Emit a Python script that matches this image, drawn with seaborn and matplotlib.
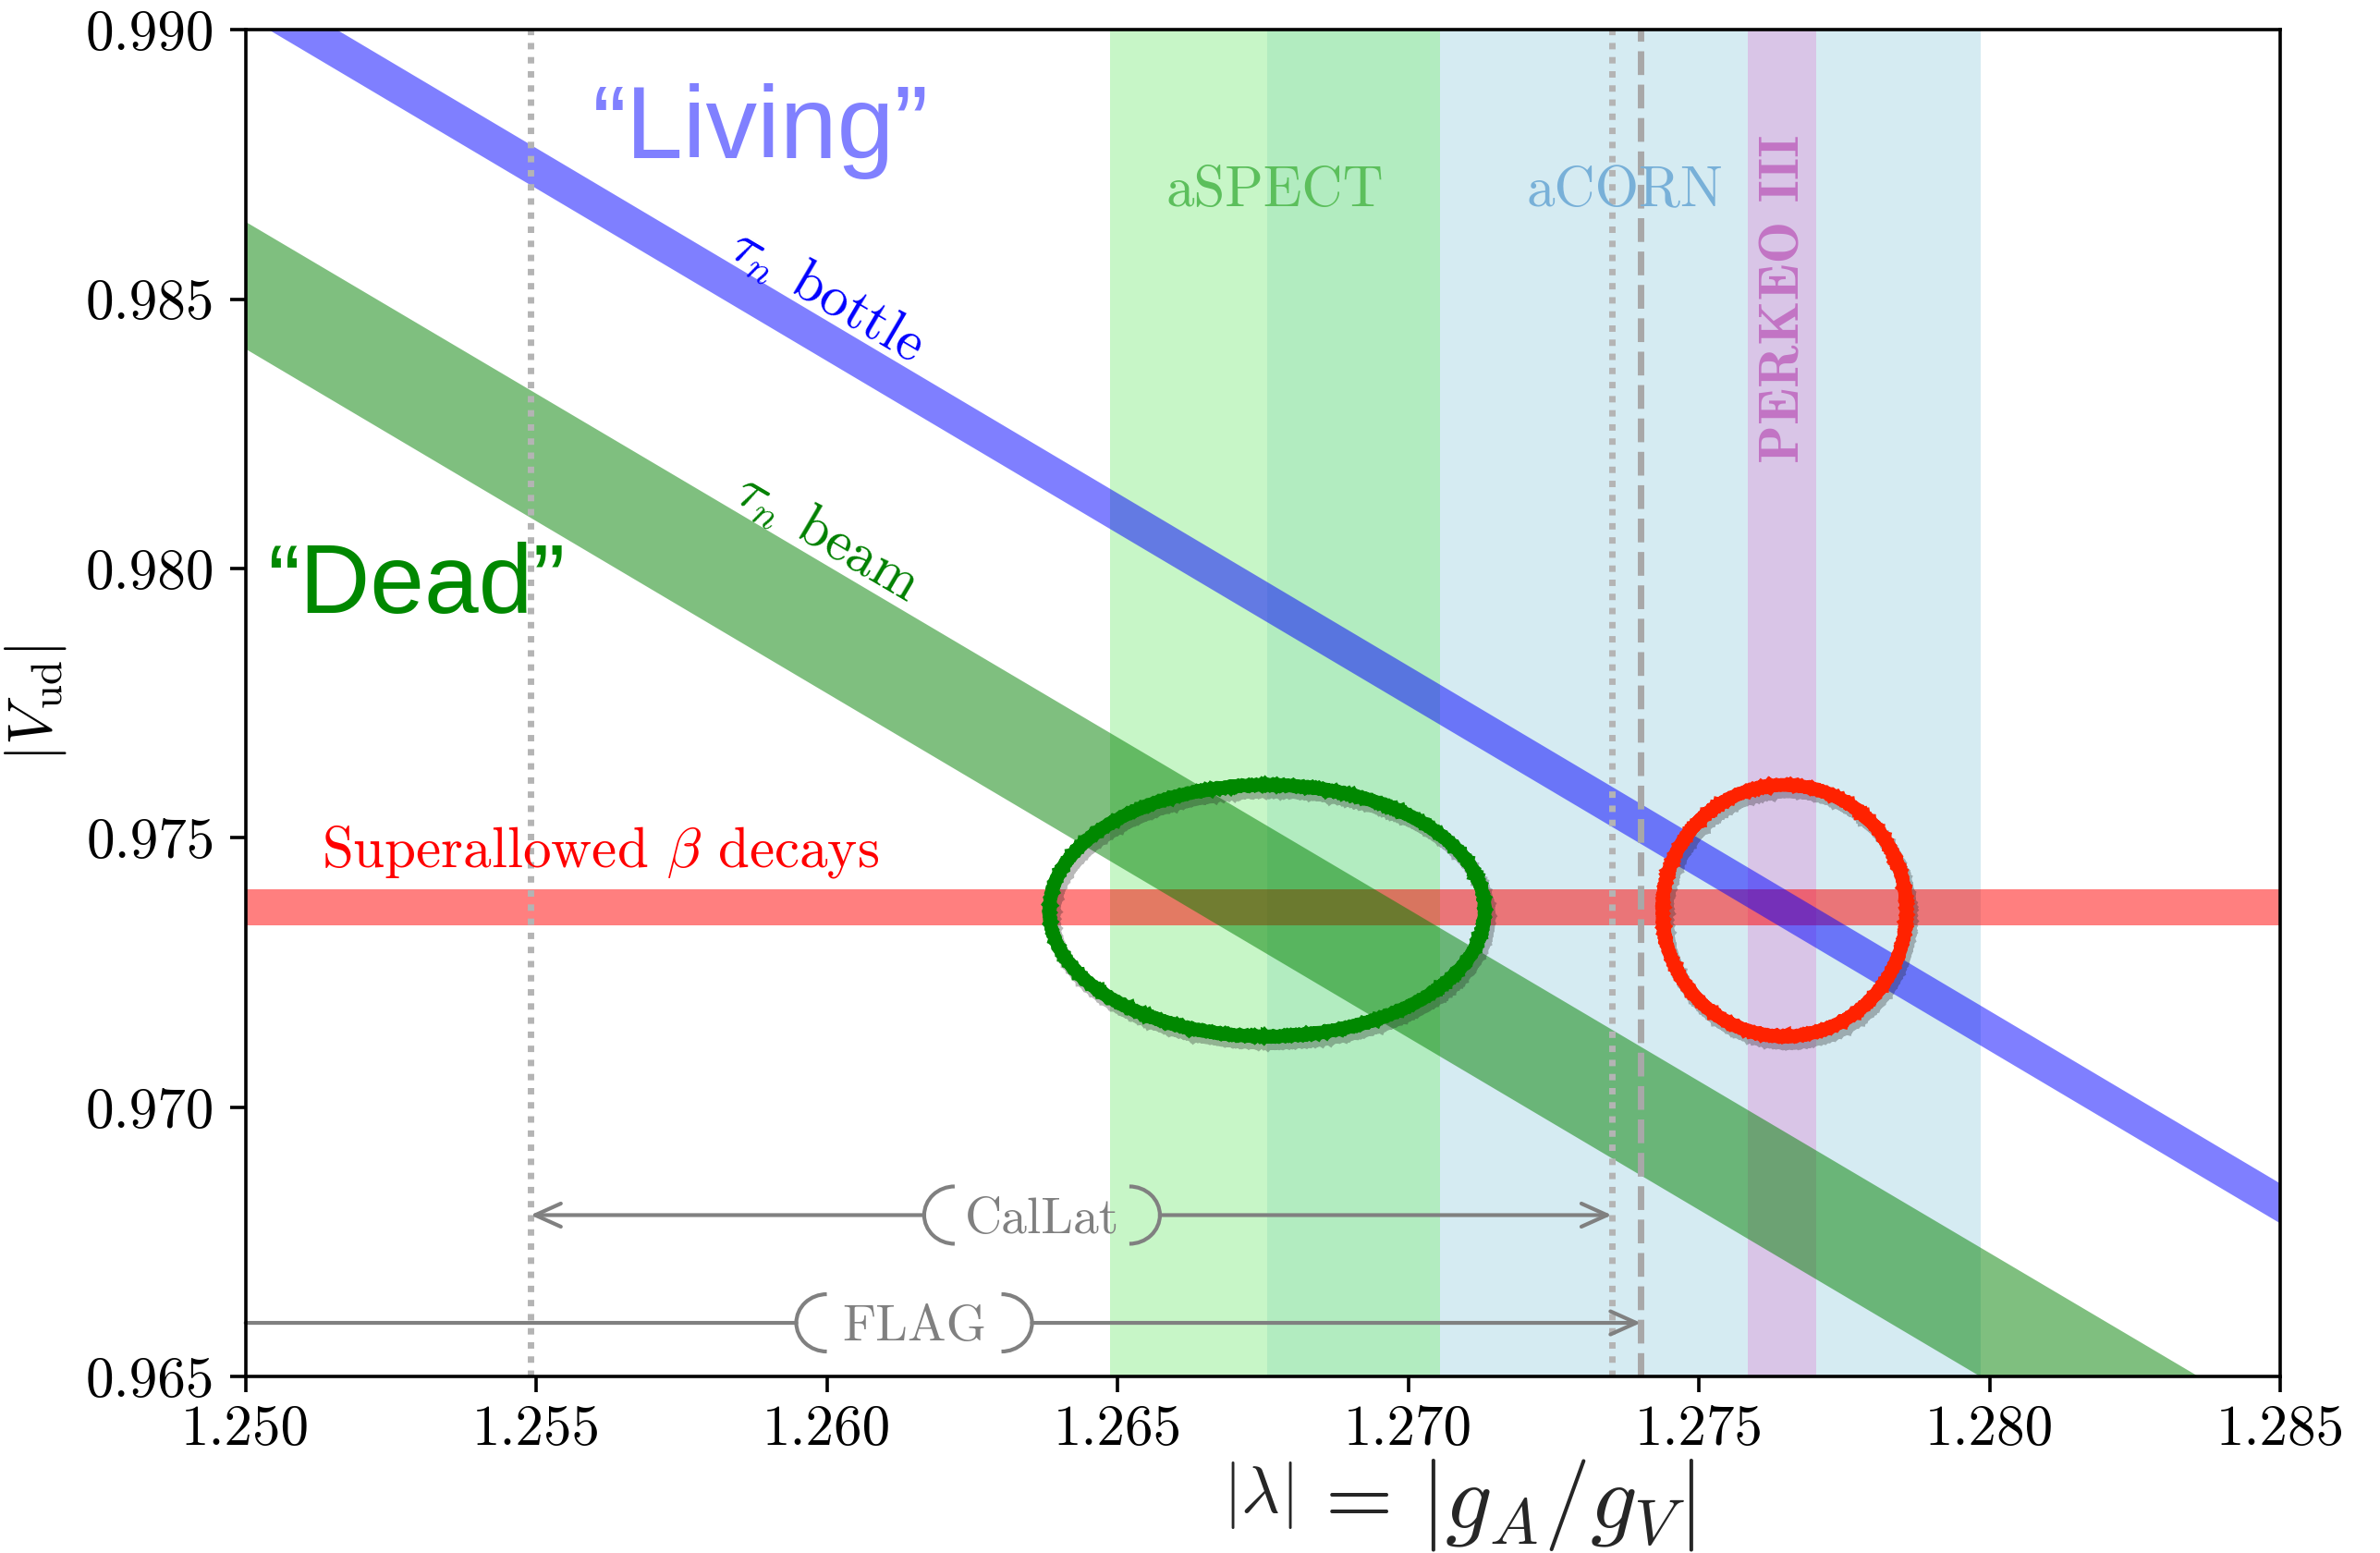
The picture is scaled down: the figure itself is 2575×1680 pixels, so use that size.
import numpy as np
import pandas as pd
import matplotlib
matplotlib.use("Agg")
import matplotlib.pyplot as plt
import matplotlib.patches as mpatches
import matplotlib.transforms as mtransforms
import matplotlib.patheffects as pe
from matplotlib.ticker import FormatStrFormatter
import seaborn as sns

# ---------------- data ----------------
lam_range = [1.250, 1.285]            # x extent of the sloped bands
vud_range = [0.965, 0.990]

bottle_upper = [0.99101, 0.96859]     # tau_n bottle band, at lam_range ends
bottle_lower = [0.99026, 0.96785]
beam_upper = [0.98644, 0.96411]       # tau_n beam band
beam_lower = [0.98408, 0.96171]
superallowed_band = [0.97338, 0.97405]

aspect_band = [1.26487, 1.27055]
acorn_band = [1.26757, 1.27985]
perkeo_band = [1.27584, 1.27702]

lattice_names = ["CalLat", "FLAG"]
lattice_low = [1.2549, 1.2180]
lattice_high = [1.2735, 1.2740]
lattice_y = [0.9680, 0.9660]
lattice_label_x = [1.2637, 1.2615]

ellipse_x = [1.26757, 1.27647]
ellipse_y = [0.97365, 0.97365]
ellipse_half_w = [0.003745, 0.002099]
ellipse_half_h = [0.002334, 0.002334]

x_ticks = [1.250, 1.255, 1.260, 1.265, 1.270, 1.275, 1.280, 1.285]
y_ticks = [0.965, 0.970, 0.975, 0.980, 0.985, 0.990]

# ---------------- style ----------------
sns.set_theme(style="ticks")
plt.rcParams.update({
    "font.family": "serif",
    "font.serif": ["cmr10"],
    "mathtext.fontset": "cm",
    "axes.formatter.use_mathtext": True,
    "axes.unicode_minus": False,
})

W, H, DPI = 2575, 1680, 200
fig = plt.figure(figsize=(W / DPI, H / DPI), dpi=DPI)
ax = fig.add_axes([0.1032, 0.1135, 0.9581 - 0.1032, 0.9808 - 0.1135])

# vertical experimental bands
ax.axvspan(*acorn_band, color="lightblue", alpha=0.5, lw=0, zorder=1)
ax.axvspan(*aspect_band, color="lightgreen", alpha=0.5, lw=0, zorder=1.1)
ax.axvspan(*perkeo_band, color="plum", alpha=0.5, lw=0, zorder=1.2)

# superallowed
ax.axhspan(*superallowed_band, color="red", alpha=0.5, lw=0, zorder=2)

# lifetime bands
bands = pd.DataFrame({"lam": lam_range,
                      "bottle_lo": bottle_lower, "bottle_hi": bottle_upper,
                      "beam_lo": beam_lower, "beam_hi": beam_upper})
ax.fill_between(bands["lam"], bands["beam_lo"], bands["beam_hi"],
                color="green", alpha=0.5, lw=0, zorder=3)
ax.fill_between(bands["lam"], bands["bottle_lo"], bands["bottle_hi"],
                color="blue", alpha=0.5, lw=0, zorder=3.1)

# lattice reference lines
ax.axvline(lattice_low[0], color="#b4b4b4", lw=2.5, dashes=(1, 1.2), zorder=4)
ax.axvline(lattice_high[0], color="#b4b4b4", lw=2.5, dashes=(1, 1.2), zorder=4)
ax.axvline(lattice_high[1], color="#a8a8a8", lw=2.5, dashes=(3.7, 1.5), zorder=4)

ax.set_xlim(lam_range)
ax.set_ylim(vud_range)

# lattice arrows with bracketed labels
gap_pt = 45.9
for name, lo, hi, yv, cx in zip(lattice_names, lattice_low, lattice_high,
                                lattice_y, lattice_label_x):
    ax.text(cx, yv, name, ha="center", va="center_baseline", color="gray",
            fontsize=20, zorder=6)
    trans = fig.dpi_scale_trans + mtransforms.ScaledTranslation(cx, yv, ax.transData)
    for xc, t1, t2 in [(-0.4725, 90, 270), (0.4725, -90, 90)]:
        arc = mpatches.Arc((xc, 0), 0.33, 0.31, theta1=t1, theta2=t2,
                           transform=trans, color="gray", lw=1.5, zorder=6)
        ax.add_artist(arc)
    for end in (lo, hi):
        style = "->,head_length=1.0,head_width=0.45"
        if end < lam_range[0]:
            end = lam_range[0]
            style = "-"
        ax.annotate("", xy=(end, yv), xytext=(cx, yv), annotation_clip=False,
                    arrowprops=dict(arrowstyle=style, color="gray", lw=1.5,
                                    shrinkA=gap_pt, shrinkB=0, mutation_scale=10),
                    zorder=6)

# hand-drawn style ellipses
for ex, ey, hw, hh, col in zip(ellipse_x, ellipse_y, ellipse_half_w,
                               ellipse_half_h, ["#008800", "#ff2200"]):
    e = mpatches.Ellipse((ex, ey), 2 * hw, 2 * hh, fill=False, ec=col, lw=5,
                         zorder=7,
                         path_effects=[pe.SimpleLineShadow(offset=(1.5, -2.5),
                                                           alpha=0.3),
                                       pe.Normal()])
    e.set_sketch_params(scale=0.6, length=4, randomness=2)
    ax.add_patch(e)

# texts
sans = ["Liberation Sans", "DejaVu Sans"]
ax.text(1.25886, 0.98762, "\u201cLiving\u201d", color="#8080ff", fontsize=40,
        family=sans, ha="center", va="baseline", zorder=8)
ax.text(1.25293, 0.97918, "\u201cDead\u201d", color="#008800", fontsize=38,
        family=sans, ha="center", va="baseline", zorder=8)
ax.text(1.25131, 0.97447, r"Superallowed $\beta$ decays", color="red",
        fontsize=22, ha="left", va="baseline", zorder=8)
ax.text(1.26770, 0.98673, "aSPECT", color="#5cbf5c", fontsize=22,
        ha="center", va="baseline", zorder=8)
ax.text(1.27372, 0.98673, "aCORN", color="#78b0d8", fontsize=22,
        ha="center", va="baseline", zorder=8)
ax.text(1.27648, 0.98500, "PERKEO III", color="#c274c4",
        fontsize=22, family=["cmb10"], rotation=90, ha="center", va="center",
        zorder=8)
ax.text(1.26001, 0.98508, r"$\tau_n$ bottle", color="blue", fontsize=22,
        rotation=-30.5, ha="center", va="center", rotation_mode="anchor",
        zorder=8)
ax.text(1.26001, 0.98058, r"$\tau_n$ beam", color="green", fontsize=22,
        rotation=-30.5, ha="center", va="center", rotation_mode="anchor",
        zorder=8)

# axes styling
ax.set_xticks(x_ticks)
ax.set_yticks(y_ticks)
ax.xaxis.set_major_formatter(FormatStrFormatter("%.3f"))
ax.yaxis.set_major_formatter(FormatStrFormatter("%.3f"))
ax.tick_params(axis="both", which="major", labelsize=22, length=6, width=1.3,
               direction="out", color="black", labelcolor="black")
ax.tick_params(axis="x", pad=5)
ax.tick_params(axis="y", pad=6)
for sp in ax.spines.values():
    sp.set_visible(True)
    sp.set_linewidth(1.3)
    sp.set_color("black")
    sp.set_zorder(10)

ax.set_ylabel(r"$|V_{\rm ud}|$", fontsize=24, color="black")
ax.yaxis.set_label_coords(-0.087, 0.5)

# x label: small |lambda| followed by a large "= |g_A/g_V|"
fig.text(0.5430, 0.0262, r"$|\lambda|$", fontsize=26, ha="right", va="baseline")
fig.text(0.5670, 0.0195, r"$=$", fontsize=34, ha="center", va="baseline")
fig.text(0.5965, 0.0165, r"$|g_A/g_V|$", fontsize=36, ha="left", va="baseline")

fig.savefig("out.png", dpi=DPI)
